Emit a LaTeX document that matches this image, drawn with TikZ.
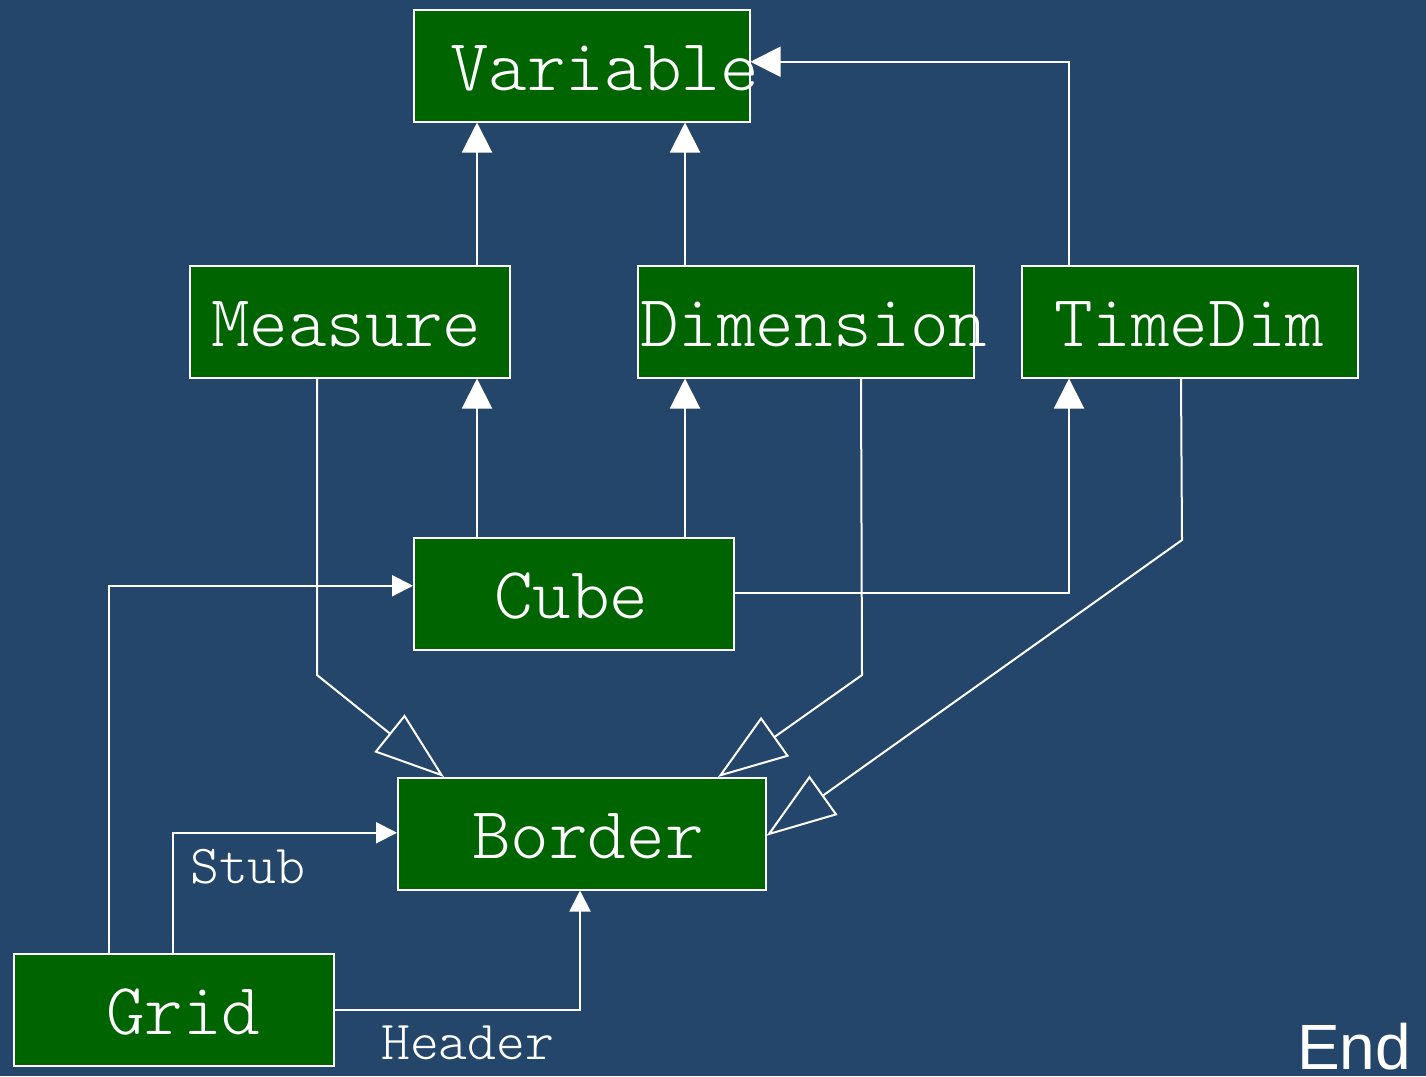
\documentclass[tikz,border=0pt]{standalone}
\usepackage{fontspec}
\newfontfamily\monof{Latin Modern Mono Light}
\newfontfamily\sansf{Liberation Sans}
\usetikzlibrary{arrows.meta}
\definecolor{bgblue}{RGB}{36,70,106}
\definecolor{boxgreen}{RGB}{0,100,0}
\begin{document}
\begin{tikzpicture}[x=1pt,y=-1pt,
 box/.style={draw=white,line width=1.5pt,fill=boxgreen,inner sep=0pt,anchor=north west,minimum height=112pt},
 big/.style={text=white,font=\monof\fontsize{73.5}{73.5}\selectfont,inner sep=0pt,anchor=base west},
 small/.style={text=white,font=\monof\fontsize{55}{55}\selectfont,inner sep=0pt,anchor=base west},
 conn/.style={draw=white,line width=2pt},
 fa/.style={conn,-{Triangle[length=30pt,width=30pt]}},
 sa/.style={conn,-{Triangle[length=21pt,width=21pt]}},
 ia/.style={conn,-{Triangle[open,length=70pt,width=48pt]}}]
\fill[bgblue] (0,0) rectangle (1426,1076);
\useasboundingbox (0,0) rectangle (1426,1076);
% boxes
\node[box,minimum width=336pt] (var) at (413,9) {};
\node[box,minimum width=320pt] (measure) at (189,265) {};
\node[box,minimum width=336pt] (dimension) at (637,265) {};
\node[box,minimum width=336pt] (timedim) at (1021,265) {};
\node[box,minimum width=320pt] (cube) at (413,537) {};
\node[box,minimum width=368pt] (border) at (397,777) {};
\node[box,minimum width=320pt] (grid) at (13,953) {};
% labels
\node[big] (varT) at (450,90) {Variable};
\node[big] (measureT) at (211,346) {Measure};
\node[big] (dimensionT) at (640,346) {Dimension};
\node[big] (timedimT) at (1054,346) {TimeDim};
\node[big] (cubeT) at (494,618) {Cube};
\node[big] (borderT) at (472,858) {Border};
\node[big] (gridT) at (106,1034) {Grid};
\node[small] (stubT) at (190,883) {Stub};
\node[small] (headerT) at (381,1059) {Header};
\node[text=white,font=\sansf\fontsize{64}{64}\selectfont,inner sep=0pt,anchor=base west] (endT) at (1297,1069) {End};
% filled arrows to Variable
\draw[fa] ([xshift=288pt]measure.north west) -- ([xshift=64pt]var.south west);
\draw[fa] ([xshift=48pt]dimension.north west) -- ([xshift=272pt]var.south west);
\draw[fa] ([xshift=48pt]timedim.north west) |- ([yshift=4pt]var.east);
% Cube arrows
\draw[fa] ([xshift=64pt]cube.north west) -- ([xshift=288pt]measure.south west);
\draw[fa] ([xshift=272pt]cube.north west) -- ([xshift=48pt]dimension.south west);
\draw[fa] ([yshift=1pt]cube.east) -| ([xshift=48pt]timedim.south west);
% inheritance arrows to Border
\coordinate (mb) at (317,675);
\coordinate (db) at (862,675);
\coordinate (tb) at (1182,540);
\draw[ia] ([xshift=128pt]measure.south west) -- (mb) -- ([xshift=47pt]border.north west);
\draw[ia] ([xshift=224pt]dimension.south west) -- (db) -- ([xshift=321pt]border.north west);
\draw[ia] ([xshift=160pt]timedim.south west) -- (tb) -- ([yshift=-2pt]border.east);
% Grid arrows
\draw[sa] ([xshift=96pt]grid.north west) |- ([yshift=8pt]cube.west);
\draw[sa] ([xshift=160pt]grid.north west) |- ([yshift=1pt]border.west);
\draw[sa] (grid.east) -| ([xshift=183pt]border.south west);
\end{tikzpicture}
\end{document}
